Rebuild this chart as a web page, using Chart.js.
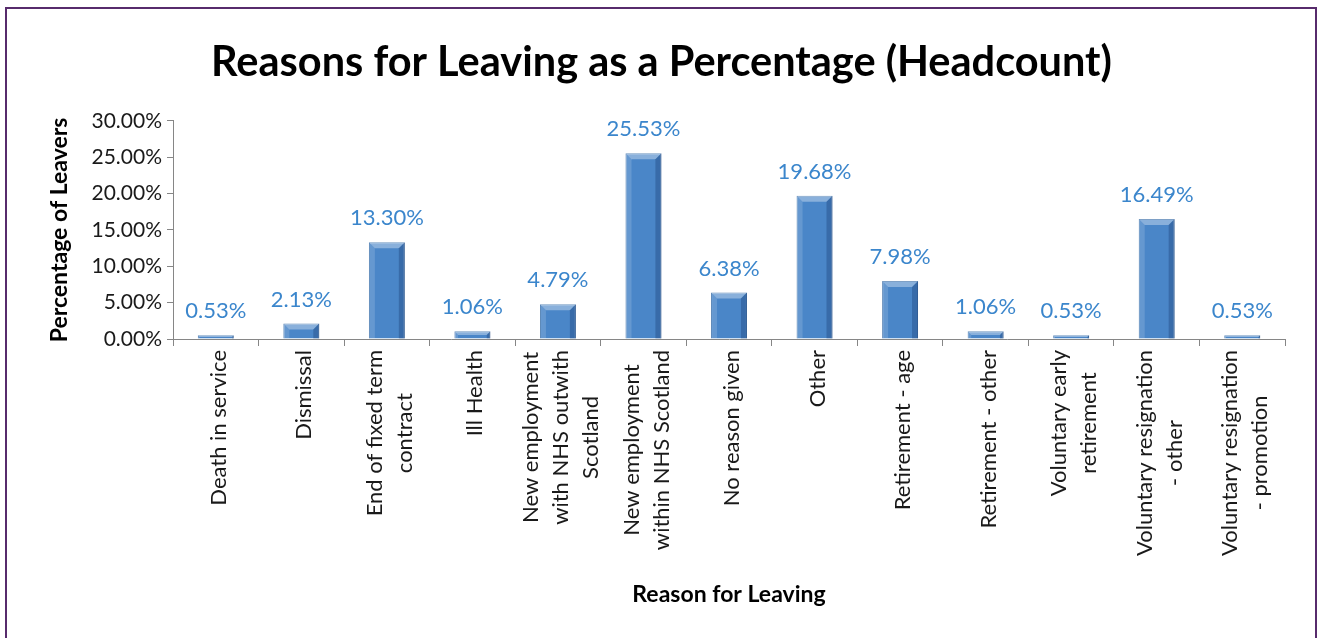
<!DOCTYPE html>
<html>
<head>
<meta charset="utf-8">
<title>Reasons for Leaving</title>
<script src="https://cdn.jsdelivr.net/npm/chart.js@4/dist/chart.umd.min.js"></script>
<style>
  html, body { margin: 0; padding: 0; background: #fff; overflow: hidden; }
  #wrap { position: relative; width: 1325px; height: 638px; }
  #frame { position: absolute; left: 5px; top: 7px; width: 1312px; height: 700px;
           border: 2px solid #572b6c; box-sizing: border-box; pointer-events: none; }
  canvas { position: absolute; left: 0; top: 0; }
</style>
</head>
<body>
<div id="wrap">
  <canvas id="chart" width="1325" height="638"></canvas>
  <div id="frame"></div>
</div>
<script>
const categories = [
  "Death in service",
  "Dismissal",
  ["End of fixed term", "contract"],
  "Ill Health",
  ["New employment", "with NHS outwith", "Scotland"],
  ["New employment", "within NHS Scotland"],
  "No reason given",
  "Other",
  "Retirement - age",
  "Retirement - other",
  ["Voluntary early", "retirement"],
  ["Voluntary resignation", "- other"],
  ["Voluntary resignation", "- promotion"]
];
const leaverPct = [0.53, 2.13, 13.30, 1.06, 4.79, 25.53, 6.38, 19.68, 7.98, 1.06, 0.53, 16.49, 0.53];
const yTicks = [0, 5, 10, 15, 20, 25, 30];

const AXIS = "#868686";
const LABEL_BLUE = "#3b86cc";
const FONT = "Lato";

Chart.defaults.font.family = FONT;
Chart.defaults.color = "#1a1a1a";

// bevelled look on each bar: light top face + left edge, dark right edge
const bevel = {
  id: "bevel",
  afterDatasetsDraw(chart) {
    const ctx = chart.ctx;
    chart.getDatasetMeta(0).data.forEach((bar) => {
      const { x, y, base, width } = bar.getProps(["x", "y", "base", "width"], true);
      const l = x - width / 2, r = x + width / 2;
      const b = Math.min(6, (base - y) / 2);
      ctx.save();
      ctx.fillStyle = "rgba(255,255,255,0.35)";
      ctx.beginPath();
      ctx.moveTo(l, y); ctx.lineTo(r, y); ctx.lineTo(r - b, y + b); ctx.lineTo(l + b, y + b);
      ctx.closePath(); ctx.fill();
      ctx.fillStyle = "rgba(255,255,255,0.15)";
      ctx.beginPath();
      ctx.moveTo(l, y); ctx.lineTo(l + b, y + b); ctx.lineTo(l + b, base); ctx.lineTo(l, base);
      ctx.closePath(); ctx.fill();
      ctx.fillStyle = "rgba(10,40,90,0.28)";
      ctx.beginPath();
      ctx.moveTo(r, y); ctx.lineTo(r - b, y + b); ctx.lineTo(r - b, base); ctx.lineTo(r, base);
      ctx.closePath(); ctx.fill();
      ctx.restore();
    });
  }
};

// value labels above bars
const valueLabels = {
  id: "valueLabels",
  afterDatasetsDraw(chart) {
    const ctx = chart.ctx;
    const data = chart.data.datasets[0].data;
    ctx.save();
    ctx.font = "22px " + FONT;
    ctx.fillStyle = LABEL_BLUE;
    ctx.textAlign = "center";
    ctx.textBaseline = "middle";
    chart.getDatasetMeta(0).data.forEach((bar, i) => {
      ctx.fillText(data[i].toFixed(2) + "%", bar.x, bar.y - 24);
    });
    ctx.restore();
  }
};

// rotated category labels, lines centred within each block
const categoryLabels = {
  id: "categoryLabels",
  afterDraw(chart) {
    const ctx = chart.ctx;
    const xs = chart.scales.x;
    const lh = 30;
    ctx.save();
    ctx.font = "22px " + FONT;
    ctx.fillStyle = "#1a1a1a";
    ctx.textAlign = "center";
    ctx.textBaseline = "middle";
    categories.forEach((c, i) => {
      const lines = Array.isArray(c) ? c : [c];
      const maxW = Math.max(...lines.map((t) => ctx.measureText(t).width));
      const cx = xs.getPixelForValue(i) + 3;
      const cy = xs.top + 11 + maxW / 2;
      lines.forEach((t, j) => {
        const lx = cx - (lines.length * lh) / 2 + (j + 0.5) * lh;
        ctx.save();
        ctx.translate(lx, cy);
        ctx.rotate(-Math.PI / 2);
        ctx.fillText(t, 0, 0);
        ctx.restore();
      });
    });
    ctx.restore();
  }
};

new Chart(document.getElementById("chart"), {
  type: "bar",
  data: {
    labels: categories,
    datasets: [{
      data: leaverPct,
      backgroundColor: "#4a86c8",
      borderColor: "#3a6ea8",
      borderWidth: 1,
      barPercentage: 0.42,
      categoryPercentage: 1
    }]
  },
  options: {
    responsive: false,
    animation: false,
    layout: { padding: { left: 38, right: 40, top: 0, bottom: 0 } },
    plugins: {
      legend: { display: false },
      tooltip: { enabled: false },
      title: {
        display: true,
        text: "Reasons for Leaving as a Percentage (Headcount)",
        color: "#000",
        font: { family: FONT, size: 41.5, weight: "bold" },
        padding: { top: 38, bottom: 33 }
      }
    },
    scales: {
      x: {
        grid: { offset: true, drawOnChartArea: false, tickLength: 7, color: AXIS },
        border: { color: AXIS },
        ticks: { display: false },
        title: {
          display: true,
          text: "Reason for Leaving",
          color: "#000",
          font: { family: FONT, size: 23, weight: "bold" },
          padding: { top: 0, bottom: 30 }
        },
        afterFit: (s) => { s.height = 299; }
      },
      y: {
        min: 0,
        max: 30,
        afterBuildTicks: (s) => { s.ticks = yTicks.map((v) => ({ value: v })); },
        grid: { drawOnChartArea: false, tickLength: 6, color: AXIS },
        border: { color: AXIS },
        ticks: {
          padding: 5,
          color: "#1a1a1a",
          font: { family: FONT, size: 21 },
          callback: (v) => v.toFixed(2) + "%"
        },
        title: {
          display: true,
          text: "Percentage of Leavers",
          color: "#000",
          font: { family: FONT, size: 23, weight: "bold" },
          padding: { top: 8, bottom: 0 }
        },
        afterFit: (s) => { s.width = 135; }
      }
    }
  },
  plugins: [bevel, valueLabels, categoryLabels]
});
</script>
</body>
</html>
